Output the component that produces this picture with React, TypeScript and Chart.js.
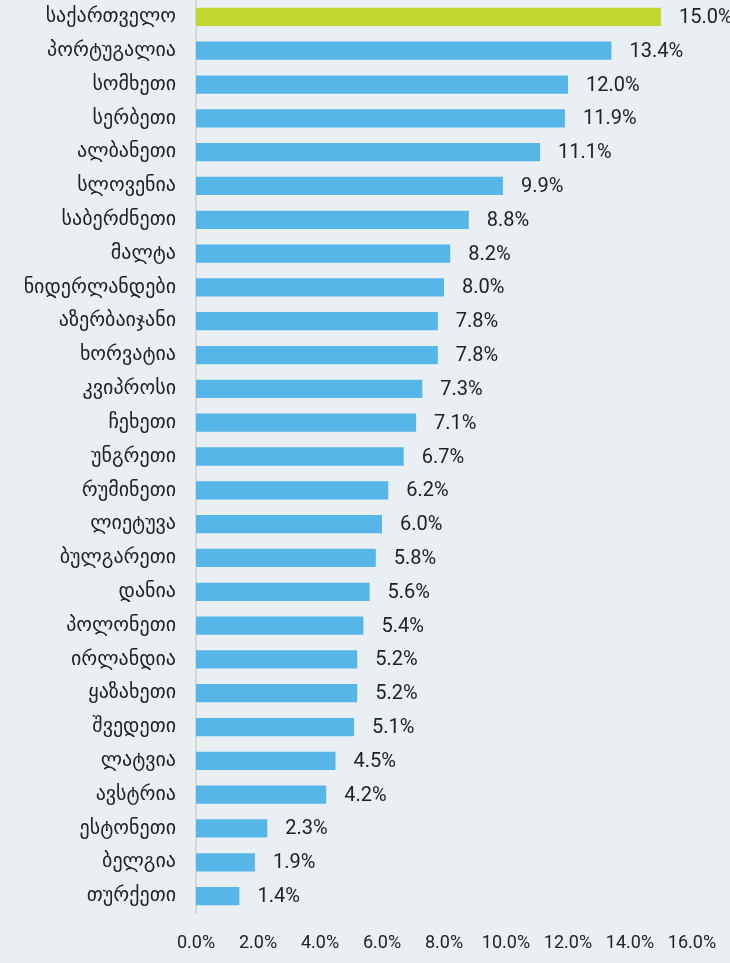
import React, { useEffect, useRef } from "react";
import { Chart, registerables } from "chart.js";

Chart.register(...registerables);

const countries = [
  "საქართველო", "პორტუგალია", "სომხეთი", "სერბეთი", "ალბანეთი", "სლოვენია",
  "საბერძნეთი", "მალტა", "ნიდერლანდები", "აზერბაიჯანი", "ხორვატია", "კვიპროსი",
  "ჩეხეთი", "უნგრეთი", "რუმინეთი", "ლიეტუვა", "ბულგარეთი", "დანია",
  "პოლონეთი", "ირლანდია", "ყაზახეთი", "შვედეთი", "ლატვია", "ავსტრია",
  "ესტონეთი", "ბელგია", "თურქეთი",
];
const values = [
  15.0, 13.4, 12.0, 11.9, 11.1, 9.9, 8.8, 8.2, 8.0, 7.8, 7.8, 7.3, 7.1, 6.7,
  6.2, 6.0, 5.8, 5.6, 5.4, 5.2, 5.2, 5.1, 4.5, 4.2, 2.3, 1.9, 1.4,
];
const highlighted = ["საქართველო"];

const BG = "#e9eff2";
const BLUE = "#56b6e7";
const GREEN = "#c0d72f";
const NUM_FONT = "Roboto, 'DejaVu Sans', sans-serif";
const LBL_FONT = "'DejaVu Sans', sans-serif";

const valueLabels = {
  id: "valueLabels",
  afterDatasetsDraw(chart: any) {
    const { ctx } = chart;
    const meta = chart.getDatasetMeta(0);
    ctx.save();
    ctx.font = `20px ${NUM_FONT}`;
    ctx.fillStyle = "#222";
    ctx.textAlign = "left";
    ctx.textBaseline = "middle";
    meta.data.forEach((bar: any, i: number) => {
      ctx.fillText(values[i].toFixed(1) + "%", bar.x + 18, bar.y + 1);
    });
    ctx.restore();
  },
};

export default function App() {
  const ref = useRef<HTMLCanvasElement>(null);
  useEffect(() => {
    document.body.style.margin = "0";
    const chart = new Chart(ref.current!, {
      type: "bar",
      data: {
        labels: countries,
        datasets: [
          {
            data: values,
            backgroundColor: countries.map((c) => (highlighted.includes(c) ? GREEN : BLUE)),
            categoryPercentage: 1,
            barPercentage: 0.54,
          },
        ],
      },
      options: {
        indexAxis: "y",
        animation: false,
        responsive: false,
        layout: { padding: { left: 0, right: 38, top: 0, bottom: 0 } },
        plugins: { legend: { display: false }, tooltip: { enabled: false } },
        scales: {
          x: {
            min: 0,
            max: 16,
            grid: { display: false },
            border: { display: false },
            ticks: {
              stepSize: 2,
              padding: 12,
              color: "#222",
              font: { family: NUM_FONT, size: 18 },
              callback: (v: any) => Number(v).toFixed(1) + "%",
            },
            afterFit: (s: any) => { s.height = 50; s.paddingLeft = 0; s.paddingRight = 0; },
          },
          y: {
            grid: { display: false },
            border: { display: true, color: "#d5d9dc", width: 2 },
            ticks: {
              padding: 12,
              color: "#222",
              font: { family: LBL_FONT, size: 20 },
            },
            afterFit: (s: any) => { s.width = 196; s.paddingTop = 0; s.paddingBottom = 0; },
          },
        },
      },
      plugins: [valueLabels],
    });
    return () => chart.destroy();
  }, []);
  return (
    <div style={{ width: 730, height: 963, background: BG }}>
      <canvas ref={ref} width={730} height={963} />
    </div>
  );
}
